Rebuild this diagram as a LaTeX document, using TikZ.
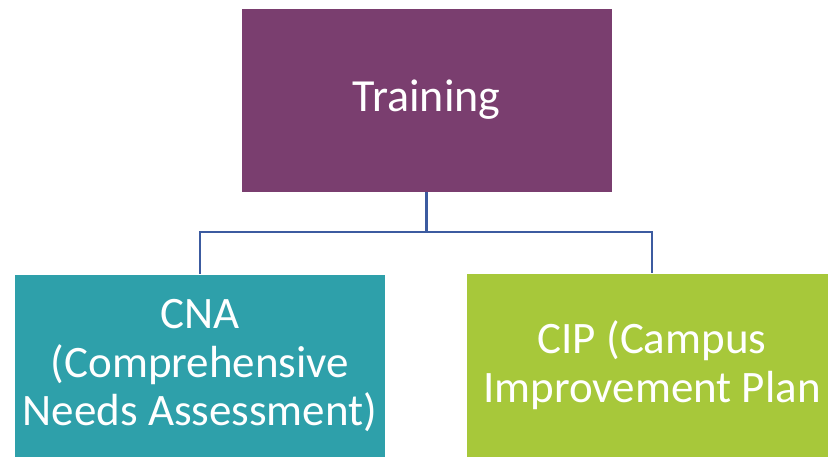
\documentclass[tikz,border=0pt]{standalone}
\usepackage{fontspec}
\setmainfont{Carlito}
\definecolor{trainpurple}{HTML}{7A3E6F}
\definecolor{cnateal}{HTML}{2EA0AA}
\definecolor{cipgreen}{HTML}{A7C83A}
\definecolor{linkblue}{HTML}{3C5BA0}
\tikzset{
  orgbox/.style={draw=white, line width=0.6pt, minimum width=371pt, minimum height=184pt,
    inner sep=0pt, text=white, align=center},
  link/.style={draw=linkblue, line width=2.8pt}
}
\begin{document}
\begin{tikzpicture}[x=1pt,y=-1pt]
\useasboundingbox (0,0) rectangle (828,456);
\clip (0,0) rectangle (828,456);
\node[orgbox, fill=trainpurple, font=\fontsize{46}{53}\selectfont] (top) at (426.5,100) {Training};
\node[orgbox, fill=cnateal, font=\fontsize{45}{48.5}\selectfont] (cna) at (200,366) {CNA\\(Comprehensive\\Needs Assessment)};
\node[orgbox, fill=cipgreen, font=\fontsize{45}{49.5}\selectfont] (cip) at (652,365) {CIP (Campus\\Improvement Plan};
\coordinate (bus) at (426.5,232);
\draw[link] (top.south) -- (bus);
\draw[link] (bus) -| (cna.north);
\draw[link] (bus) -| (cip.north);
\end{tikzpicture}
\end{document}
